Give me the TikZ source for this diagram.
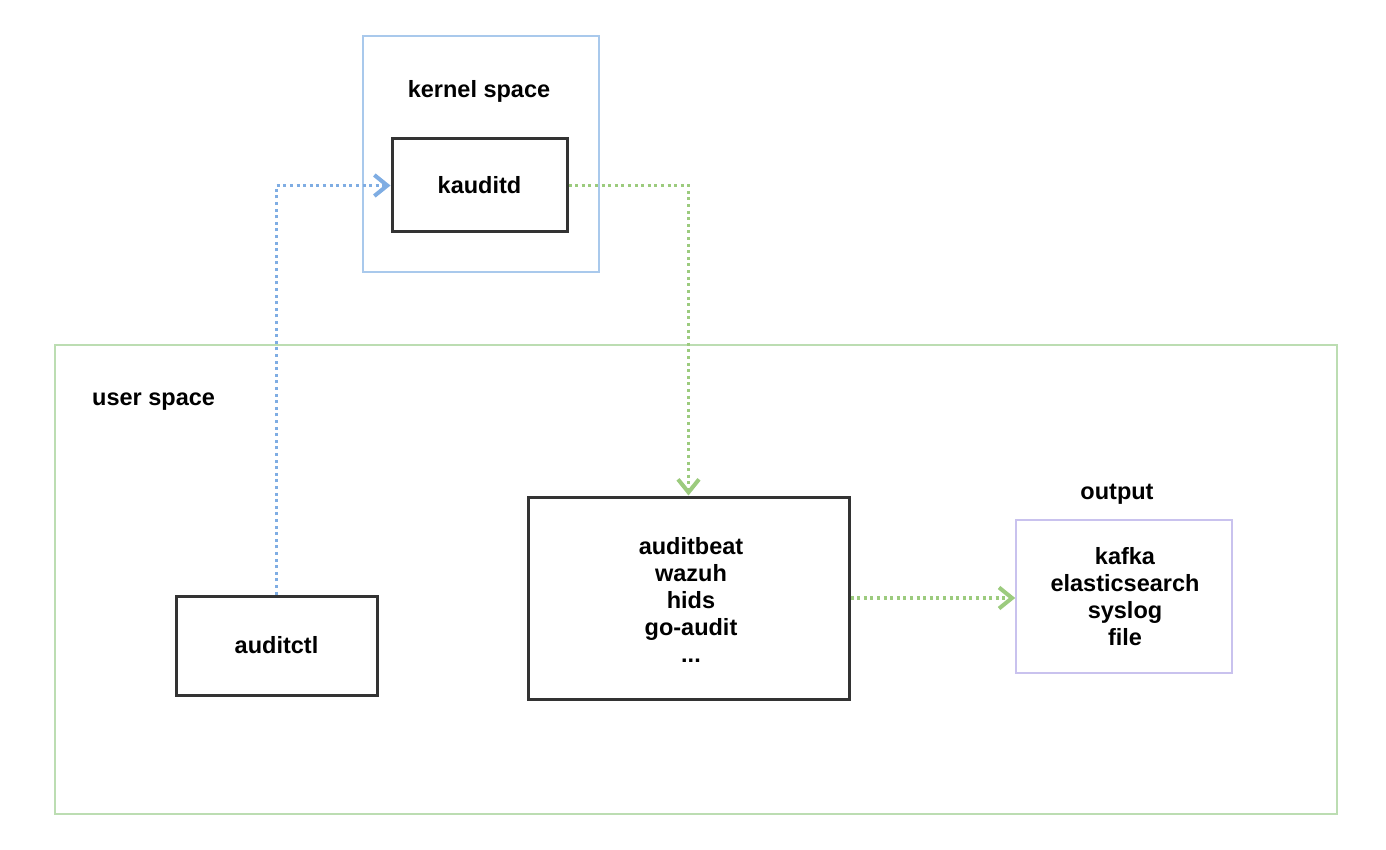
\documentclass[tikz,border=0pt]{standalone}
\usepackage{fontspec}
\setmainfont{Liberation Sans}
\usetikzlibrary{arrows.meta}
\definecolor{kblue}{HTML}{A9C9EC}
\definecolor{ablue}{HTML}{7FADE3}
\definecolor{ugreen}{HTML}{BCDDB2}
\definecolor{agreen}{HTML}{9CCB7E}
\definecolor{lav}{HTML}{C9C2EE}
\tikzset{
  lbl/.style={font=\fontsize{23.5}{27}\selectfont\bfseries, align=center, inner sep=0},
  blackbox/.style={draw=black!80, line width=3pt, fill=white},
  flow/.style={line width=3.2pt, dash pattern=on 3pt off 3.6pt,
    -{Straight Barb[length=13pt,width=21pt,line width=4pt]}},
}
\begin{document}
\begin{tikzpicture}[x=1pt,y=-1pt]
\useasboundingbox (0,0) rectangle (1386,850);
% containers
\draw[kblue, line width=1.6pt] (363,36) rectangle (599,272);
\node[lbl] (kt) at (479,91.5) {kernel space};
\draw[ugreen, line width=1.6pt] (55,345) rectangle (1337,814);
\node[lbl, anchor=west] (ut) at (92,401.5) {user space};
% nodes
\node[blackbox, minimum width=175pt, minimum height=93pt, lbl] (kauditd) at (479.5,185.5) {kauditd};
\node[blackbox, minimum width=201pt, minimum height=99pt, lbl] (auditctl) at (276.5,645.5) {auditctl};
\node[blackbox, minimum width=321pt, minimum height=202pt] (mid) at (688.5,598) {};
\node[lbl] (midt) at (691,600) {auditbeat\\wazuh\\hids\\go-audit\\...};
\node[lbl] (outl) at (1117,494) {output};
\node[draw=lav, line width=1.6pt, minimum width=216pt, minimum height=153pt] (out) at (1124,596.5) {};
\node[lbl] (outt) at (1125,597) {kafka\\elasticsearch\\syslog\\file};
% connectors
\draw[flow, ablue] (auditctl.north) |- (kauditd.west);
\draw[flow, agreen] (kauditd.east) -| (mid.north);
\draw[flow, agreen] (mid.east) -- (mid.east -| out.west);
\end{tikzpicture}
\end{document}
